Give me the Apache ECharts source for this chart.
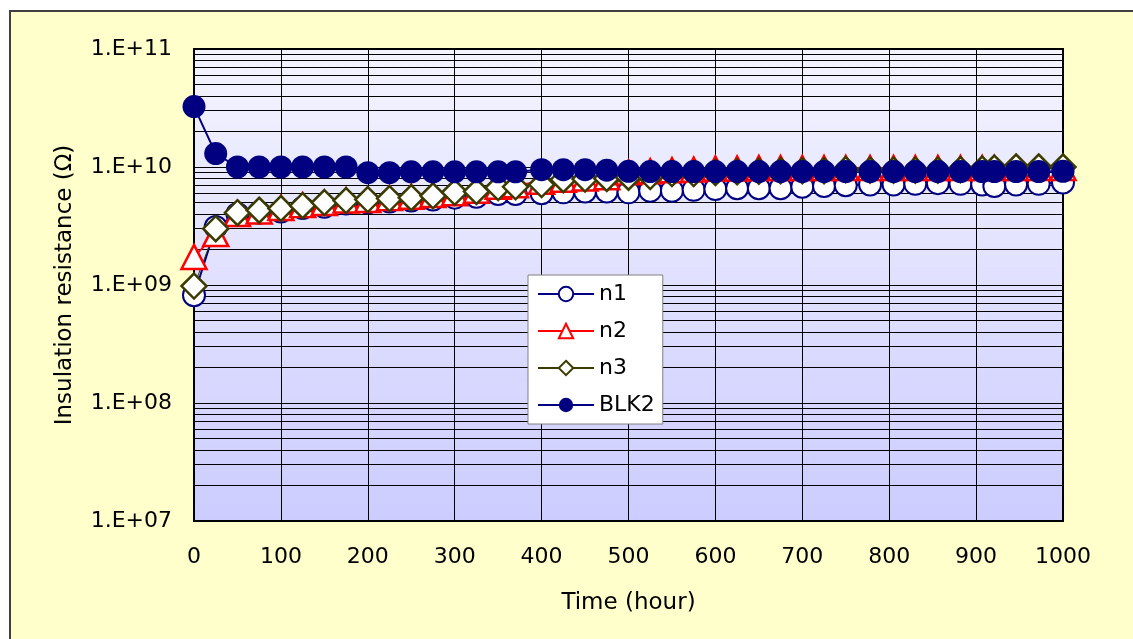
<!DOCTYPE html>
<html>
<head>
<meta charset="utf-8">
<script src="https://cdn.jsdelivr.net/npm/echarts@6/dist/echarts.min.js"></script>
<style>
html,body{margin:0;padding:0;background:#fff;}
#chart{width:1133px;height:639px;}
</style>
</head>
<body>
<div id="chart"></div>
<script>
// Time (hour)
var times = [0,25,50,75,100,125,150,175,200,225,250,275,300,325,350,370,400,425,450,475,500,525,550,575,600,625,650,675,700,725,750,778,805,830,856,882,907,921,946,972,1000];
var n1 = [8.2e8,3.1e9,4.0e9,4.1e9,4.2e9,4.5e9,4.6e9,4.9e9,5.0e9,5.1e9,5.2e9,5.3e9,5.5e9,5.6e9,5.9e9,5.9e9,6.0e9,6.1e9,6.2e9,6.2e9,6.1e9,6.3e9,6.3e9,6.4e9,6.5e9,6.6e9,6.6e9,6.6e9,6.8e9,6.9e9,7.0e9,7.1e9,7.1e9,7.2e9,7.3e9,7.2e9,7.1e9,6.9e9,7.1e9,7.2e9,7.4e9];
var n2 = [1.73e9,2.7e9,4.0e9,4.2e9,4.5e9,4.75e9,4.95e9,5.2e9,5.25e9,5.45e9,5.6e9,5.8e9,6.0e9,6.3e9,6.8e9,7.0e9,7.5e9,7.8e9,8.0e9,8.2e9,9.0e9,9.2e9,9.4e9,9.5e9,9.7e9,9.7e9,9.8e9,9.8e9,9.8e9,9.8e9,9.8e9,9.8e9,9.8e9,9.8e9,9.8e9,9.8e9,9.8e9,9.8e9,9.8e9,9.8e9,9.8e9];
var n3 = [9.8e8,3.0e9,4.1e9,4.3e9,4.45e9,4.7e9,5.0e9,5.2e9,5.3e9,5.4e9,5.5e9,5.7e9,6.1e9,6.2e9,6.7e9,6.8e9,7.1e9,7.8e9,7.9e9,8.0e9,8.2e9,8.3e9,8.8e9,8.8e9,9.0e9,9.1e9,9.2e9,9.3e9,9.3e9,9.3e9,9.5e9,9.4e9,9.4e9,9.4e9,9.4e9,9.5e9,9.6e9,9.8e9,1.0e10,1.0e10,1.0e10];
var blk2 = [3.25e10,1.3e10,1.0e10,1.0e10,1.0e10,1.0e10,1.0e10,1.0e10,8.95e9,8.95e9,9.1e9,9.1e9,9.1e9,9.1e9,9.1e9,9.1e9,9.5e9,9.5e9,9.5e9,9.4e9,9.2e9,9.15e9,9.15e9,9.15e9,9.15e9,9.15e9,9.15e9,9.15e9,9.15e9,9.15e9,9.15e9,9.15e9,9.15e9,9.15e9,9.15e9,9.15e9,9.15e9,9.15e9,9.15e9,9.15e9,9.2e9];
var seriesNames = ['n1','n2','n3','BLK2'];
var xTicks = [0,100,200,300,400,500,600,700,800,900,1000];
var yDecades = [7,8,9,10,11];

function pairs(vals){ return times.map(function(t,i){ return [t, vals[i]]; }); }

// log minor grid lines (2..9 in each decade)
var minorLines = [];
for (var d = 0; d < yDecades.length - 1; d++) {
  for (var k = 2; k <= 9; k++) minorLines.push({yAxis: k * Math.pow(10, yDecades[d])});
}

var FONT = 'DejaVu Sans';
var chart = echarts.init(document.getElementById('chart'), null, {renderer:'canvas'});
chart.setOption({
  animation: false,
  backgroundColor: '#ffffff',
  textStyle: {fontFamily: FONT},
  graphic: [{
    type: 'rect', z: -10, silent: true,
    shape: {x: 10, y: 11, width: 1200, height: 700},
    style: {fill: '#FFFFCC', stroke: '#404040', lineWidth: 2}
  }],
  grid: {
    left: 194, right: 70, top: 49, bottom: 118,
    show: true, borderColor: '#000', borderWidth: 2,
    backgroundColor: {type:'linear', x:0, y:0, x2:0, y2:1,
      colorStops:[{offset:0,color:'#F4F4FF'},{offset:1,color:'#CCCCFF'}]}
  },
  legend: {
    orient: 'vertical', left: 528, top: 275,
    data: seriesNames,
    itemWidth: 56, itemHeight: 18, itemGap: 15,
    padding: [8, 8, 8, 9],
    backgroundColor: '#ffffff', borderColor: '#808080', borderWidth: 1,
    textStyle: {fontFamily: FONT, fontSize: 22, color: '#000'}
  },
  xAxis: {
    type: 'value', min: 0, max: 1000, interval: 100,
    name: 'Time (hour)', nameLocation: 'middle', nameGap: 71,
    nameTextStyle: {fontFamily: FONT, fontSize: 23, color: '#000'},
    axisLine: {show: false}, axisTick: {show: false},
    axisLabel: {fontFamily: FONT, fontSize: 22, color: '#000', margin: 25,
      formatter: function(v){ return String(v); }},
    splitLine: {show: true, lineStyle: {color: '#000', width: 1}}
  },
  yAxis: {
    type: 'log', logBase: 10, min: 1e7, max: 1e11,
    name: 'Insulation resistance (Ω)', nameLocation: 'middle', nameGap: 117,
    nameTextStyle: {fontFamily: FONT, fontSize: 23, color: '#000'},
    axisLine: {show: false}, axisTick: {show: false},
    axisLabel: {fontFamily: FONT, fontSize: 22, color: '#000', margin: 22,
      formatter: function(v){ var e = Math.round(Math.log10(v)); return '1.E+' + (e < 10 ? '0' + e : e); }},
    splitLine: {show: true, lineStyle: {color: '#000', width: 1}}
  },
  series: [
    {
      name: 'n1', type: 'line', data: pairs(n1),
      symbol: 'circle', symbolSize: 22,
      lineStyle: {color: '#000080', width: 2},
      itemStyle: {color: '#ffffff', borderColor: '#000080', borderWidth: 2},
      markLine: {
        silent: true, symbol: 'none', z: 1, animation: false,
        label: {show: false},
        lineStyle: {color: '#000', width: 1, type: 'solid'},
        emphasis: {disabled: true},
        data: minorLines
      }
    },
    {
      name: 'n2', type: 'line', data: pairs(n2),
      symbol: 'triangle', symbolSize: [25, 24],
      lineStyle: {color: '#FF0000', width: 2},
      itemStyle: {color: '#ffffff', borderColor: '#FF0000', borderWidth: 2.5}
    },
    {
      name: 'n3', type: 'line', data: pairs(n3),
      symbol: 'diamond', symbolSize: 25,
      lineStyle: {color: '#3B3B00', width: 1},
      itemStyle: {color: '#ffffff', borderColor: '#3B3B00', borderWidth: 2.5}
    },
    {
      name: 'BLK2', type: 'line', data: pairs(blk2),
      symbol: 'circle', symbolSize: 23,
      lineStyle: {color: '#000080', width: 2},
      itemStyle: {color: '#000080', borderColor: '#000080', borderWidth: 0}
    }
  ]
});
</script>
</body>
</html>
